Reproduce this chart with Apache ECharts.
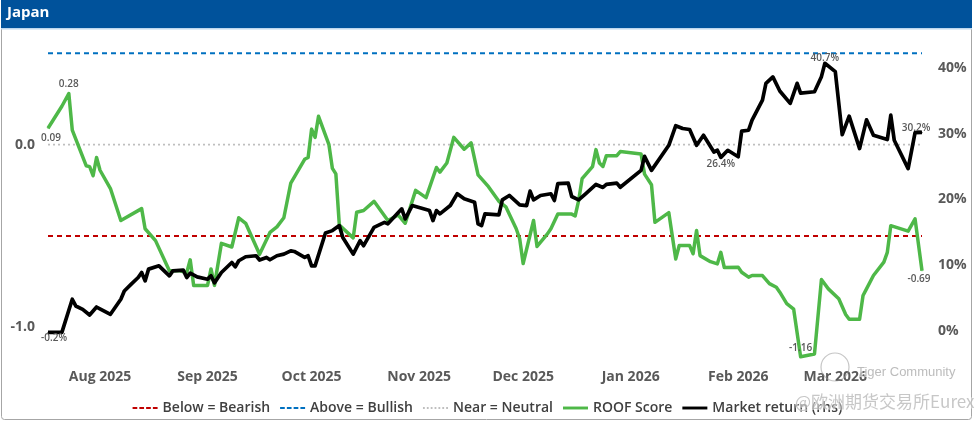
<!DOCTYPE html>
<html>
<head>
<meta charset="utf-8">
<script src="https://cdn.jsdelivr.net/npm/echarts@6/dist/echarts.min.js"></script>
<style>
html,body{margin:0;padding:0;background:#fff;}
#chart{width:975px;height:424px;}
</style>
</head>
<body>
<div id="chart"></div>
<script>
// ---------------- DATA ----------------
const chartTitle = 'Japan';

const roofDates = ['2025-07-17','2025-07-21','2025-07-23','2025-07-24','2025-07-28','2025-07-29','2025-07-30','2025-07-31','2025-08-01','2025-08-04','2025-08-07','2025-08-13','2025-08-14','2025-08-17','2025-08-21','2025-08-24','2025-08-26','2025-08-27','2025-08-28','2025-09-01','2025-09-02','2025-09-03','2025-09-05','2025-09-08','2025-09-10','2025-09-12','2025-09-16','2025-09-19','2025-09-21','2025-09-23','2025-09-25','2025-09-29','2025-09-30','2025-10-01','2025-10-02','2025-10-03','2025-10-06','2025-10-07','2025-10-08','2025-10-09','2025-10-13','2025-10-14','2025-10-16','2025-10-19','2025-10-23','2025-10-26','2025-10-28','2025-10-31','2025-11-03','2025-11-06','2025-11-07','2025-11-09','2025-11-11','2025-11-14','2025-11-16','2025-11-18','2025-11-21','2025-11-24','2025-11-26','2025-11-29','2025-11-30','2025-12-01','2025-12-04','2025-12-05','2025-12-08','2025-12-09','2025-12-11','2025-12-15','2025-12-16','2025-12-17','2025-12-18','2025-12-21','2025-12-22','2025-12-23','2025-12-24','2025-12-25','2025-12-28','2025-12-29','2026-01-04','2026-01-05','2026-01-07','2026-01-08','2026-01-12','2026-01-14','2026-01-15','2026-01-18','2026-01-19','2026-01-20','2026-01-21','2026-01-24','2026-01-26','2026-01-27','2026-01-28','2026-02-01','2026-02-02','2026-02-04','2026-02-05','2026-02-08','2026-02-10','2026-02-12','2026-02-13','2026-02-15','2026-02-17','2026-02-19','2026-02-23','2026-02-25','2026-02-27','2026-03-02','2026-03-04','2026-03-05','2026-03-08','2026-03-09','2026-03-10','2026-03-12','2026-03-15','2026-03-16','2026-03-17','2026-03-22','2026-03-24','2026-03-26'];

const roofScore = [0.09,0.21,0.28,0.08,-0.115,-0.12,-0.17,-0.07,-0.14,-0.24,-0.415,-0.35,-0.46,-0.525,-0.69,-0.69,-0.70,-0.63,-0.77,-0.77,-0.68,-0.77,-0.54,-0.56,-0.40,-0.43,-0.60,-0.48,-0.45,-0.40,-0.21,-0.08,-0.07,0.085,0.04,0.155,0.0,-0.13,-0.16,-0.44,-0.51,-0.37,-0.36,-0.31,-0.415,-0.385,-0.43,-0.25,-0.29,-0.125,-0.15,-0.10,0.04,-0.025,0.01,-0.165,-0.23,-0.31,-0.34,-0.46,-0.515,-0.65,-0.415,-0.557,-0.488,-0.46,-0.38,-0.38,-0.39,-0.306,-0.186,-0.12,-0.027,-0.10,-0.119,-0.06,-0.06,-0.038,-0.051,-0.161,-0.219,-0.425,-0.372,-0.625,-0.552,-0.552,-0.597,-0.47,-0.607,-0.64,-0.652,-0.589,-0.672,-0.67,-0.698,-0.725,-0.716,-0.716,-0.76,-0.78,-0.807,-0.87,-0.90,-1.16,-1.145,-0.738,-0.789,-0.843,-0.929,-0.955,-0.955,-0.825,-0.789,-0.716,-0.643,-0.589,-0.443,-0.473,-0.406,-0.69];

const marketDates = ['2025-07-17','2025-07-21','2025-07-24','2025-07-25','2025-07-27','2025-07-29','2025-07-31','2025-08-04','2025-08-07','2025-08-08','2025-08-10','2025-08-12','2025-08-13','2025-08-14','2025-08-15','2025-08-18','2025-08-21','2025-08-22','2025-08-25','2025-08-26','2025-08-27','2025-08-29','2025-09-01','2025-09-02','2025-09-03','2025-09-05','2025-09-08','2025-09-09','2025-09-10','2025-09-12','2025-09-15','2025-09-16','2025-09-18','2025-09-19','2025-09-21','2025-09-23','2025-09-25','2025-09-26','2025-09-29','2025-09-30','2025-10-01','2025-10-02','2025-10-05','2025-10-07','2025-10-09','2025-10-10','2025-10-13','2025-10-15','2025-10-16','2025-10-19','2025-10-22','2025-10-23','2025-10-27','2025-10-28','2025-10-30','2025-11-04','2025-11-05','2025-11-06','2025-11-07','2025-11-10','2025-11-12','2025-11-14','2025-11-17','2025-11-18','2025-11-19','2025-11-20','2025-11-24','2025-11-25','2025-11-27','2025-11-30','2025-12-02','2025-12-03','2025-12-04','2025-12-06','2025-12-09','2025-12-10','2025-12-11','2025-12-14','2025-12-15','2025-12-17','2025-12-19','2025-12-22','2025-12-24','2025-12-25','2025-12-28','2025-12-29','2026-01-04','2026-01-05','2026-01-07','2026-01-12','2026-01-14','2026-01-16','2026-01-18','2026-01-20','2026-01-22','2026-01-25','2026-01-26','2026-01-27','2026-01-29','2026-02-01','2026-02-02','2026-02-04','2026-02-05','2026-02-08','2026-02-09','2026-02-11','2026-02-13','2026-02-16','2026-02-18','2026-02-19','2026-02-23','2026-02-25','2026-02-26','2026-03-01','2026-03-03','2026-03-05','2026-03-08','2026-03-10','2026-03-12','2026-03-16','2026-03-17','2026-03-18','2026-03-22','2026-03-24','2026-03-26'];

const marketReturn = [-0.2,-0.2,4.84,3.82,3.31,2.44,3.66,2.55,4.84,6.1,7.13,8.14,8.9,7.63,9.42,9.92,8.4,9.16,9.27,8.14,8.81,8.24,7.89,8.4,7.33,8.9,10.43,9.77,10.69,11.3,11.45,10.8,11.2,10.84,11.45,11.7,12.2,12.1,11.2,11.45,9.92,9.92,14.9,15.27,16.03,14.24,11.7,13.74,12.98,15.77,16.53,16.3,18.58,17.05,19.08,18.32,16.79,18.32,17.82,19.08,20.87,20.1,19.59,16.29,16.03,17.82,17.66,19.95,20.61,19.19,19.08,21.27,19.95,20.61,20.87,19.85,22.4,22.49,20.46,19.95,20.87,22.29,21.83,22.29,22.49,21.87,24.43,26.56,24.43,28.24,31.22,30.79,30.64,28.24,29.77,27.22,27.48,26.4,27.48,26.5,30.38,30.53,32.06,35.11,37.66,38.63,36.49,34.61,37.66,36.18,36.38,38.67,40.7,39.44,29.85,32.67,27.74,32.11,29.77,29.11,32.82,29.0,24.69,30.15,30.2];

const levelNames = ['Below = Bearish', 'Above = Bullish', 'Near = Neutral'];
const levelValues = [-0.5, 0.5, 0];

const seriesNames = ['ROOF Score', 'Market return (rhs)'];
const monthNames = ['Jan','Feb','Mar','Apr','May','Jun','Jul','Aug','Sep','Oct','Nov','Dec'];
const leftTickLabels = [-1, 0];
const rightTickLabels = [0, 10, 20, 30, 40];
const marketLabelDates = ['2026-01-27']; // extra annotated point
const watermarkTexts = ['Tiger Community', '@欧洲期货交易所Eurex'];

// ---------------- BUILD ----------------
const FONT = 'Open Sans';
const GREY = '#595959';
const startDate = roofDates[0];
const endDate = roofDates[roofDates.length - 1];

function idxMax(a){let m=0;a.forEach((v,i)=>{if(v>a[m])m=i;});return m;}
function idxMin(a){let m=0;a.forEach((v,i)=>{if(v<a[m])m=i;});return m;}

const lblBase = {show:true, fontFamily:FONT, fontSize:10, fontWeight:600, color:GREY};

const roofLabelCfg = {};
roofLabelCfg[0] = {position:'bottom', distance:4, offset:[3,0]};
roofLabelCfg[idxMax(roofScore)] = {position:'top', distance:4};
roofLabelCfg[idxMin(roofScore)] = {position:'top', distance:3};
roofLabelCfg[roofScore.length-1] = {position:'bottom', distance:3, offset:[-3,0]};

const mktLabelCfg = {};
mktLabelCfg[0] = {position:'bottom', distance:0, offset:[6,0]};
mktLabelCfg[idxMax(marketReturn)] = {position:'top', distance:0};
marketLabelDates.forEach(d => { const i = marketDates.indexOf(d); if (i >= 0) mktLabelCfg[i] = {position:'bottom', distance:1}; });
mktLabelCfg[marketReturn.length-1] = {position:'inside', offset:[-6,-4]};

function buildData(dates, values, cfg, fmt, color) {
  return dates.map((d,i) => {
    const it = {value:[d, values[i]]};
    if (cfg[i]) {
      it.symbol = 'circle';
      it.symbolSize = 1;
      it.itemStyle = {color: color};
      it.label = Object.assign({}, lblBase, cfg[i], {formatter: p => fmt(p.value[1])});
    }
    return it;
  });
}
const roofData = buildData(roofDates, roofScore, roofLabelCfg, v => v.toFixed(2), '#4EB848');
const mktData = buildData(marketDates, marketReturn, mktLabelCfg, v => v.toFixed(1) + '%', '#000000');

const levelStyles = [
  {color:'#C00000', type:[5,4], width:2},
  {color:'#0070C0', type:[5,4], width:2},
  {color:'#BFBFBF', type:[2,3], width:1.8}
];

const ICON_DASH = 'path://M0,0H4.5V2H0ZM6.5,0H11V2H6.5ZM13,0H17.5V2H13ZM19.5,0H24V2H19.5Z';
const ICON_DOT = 'path://M0,0H1.6V1.6H0ZM3.4,0H5V1.6H3.4ZM6.8,0H8.4V1.6H6.8ZM10.2,0H11.8V1.6H10.2ZM13.6,0H15.2V1.6H13.6ZM17,0H18.6V1.6H17ZM20.4,0H22V1.6H20.4Z';
const ICON_SOLID = 'path://M0,0H24V2.8H0Z';
const levelIcons = [ICON_DASH, ICON_DASH, ICON_DOT];

const series = levelNames.map((name,i) => ({
  name: name,
  type: 'line',
  yAxisIndex: 0,
  symbol: 'none',
  silent: true,
  animation: false,
  data: [[startDate, levelValues[i]], [endDate, levelValues[i]]],
  lineStyle: levelStyles[i],
  itemStyle: {color: levelStyles[i].color},
  z: 1
}));

series.push({
  name: seriesNames[0], type:'line', yAxisIndex:0, symbol:'none', showSymbol:true,
  animation:false, data: roofData,
  lineStyle:{color:'#4EB848', width:3.5, join:'round'},
  itemStyle:{color:'#4EB848'}, z:2
});
series.push({
  name: seriesNames[1], type:'line', yAxisIndex:1, symbol:'none', showSymbol:true,
  animation:false, data: mktData,
  lineStyle:{color:'#000000', width:3.7, join:'round'},
  itemStyle:{color:'#000000'}, z:3
});

const axisLabelStyle = {color:GREY, fontFamily:FONT, fontSize:14, fontWeight:700};

const legendData = levelNames.map((n,i) => ({name:n, icon: levelIcons[i]}))
  .concat(seriesNames.map(n => ({name:n, icon: ICON_SOLID})));

const option = {
  animation: false,
  backgroundColor: '#ffffff',
  grid: {left:48, right:53, top:35, bottom:60, containLabel:false},
  xAxis: {
    type: 'time',
    min: startDate,
    max: endDate,
    minInterval: 28*86400000,
    maxInterval: 31*86400000,
    axisLine: {show:false},
    axisTick: {show:false},
    splitLine: {show:false},
    axisLabel: Object.assign({}, axisLabelStyle, {
      margin: 6,
      showMinLabel: false,
      showMaxLabel: false,
      hideOverlap: false,
      formatter: function (val) {
        const d = new Date(val);
        if (d.getDate() !== 1) return '';
        return monthNames[d.getMonth()] + ' ' + d.getFullYear();
      }
    })
  },
  yAxis: [
    {
      type:'value', min:-1.2, max:0.6, interval:0.2,
      axisLine:{show:false}, axisTick:{show:false}, splitLine:{show:false},
      axisLabel: Object.assign({}, axisLabelStyle, {
        margin: 13,
        formatter: v => leftTickLabels.some(t => Math.abs(t - v) < 1e-6) ? v.toFixed(1) : ''
      })
    },
    {
      type:'value', min:-5, max:45, interval:5, position:'right',
      axisLine:{show:false}, axisTick:{show:false}, splitLine:{show:false},
      axisLabel: Object.assign({}, axisLabelStyle, {
        margin: 16,
        formatter: v => rightTickLabels.some(t => Math.abs(t - v) < 1e-6) ? Math.round(v) + '%' : ''
      })
    }
  ],
  legend: {
    data: legendData,
    left: 'center',
    top: 396,
    itemWidth: 25,
    itemHeight: 3,
    itemGap: 10,
    textStyle: {color:'#404040', fontFamily:FONT, fontSize:14, fontWeight:600},
    selectedMode: false
  },
  graphic: [
    {type:'rect', shape:{x:1.5, y:1.5, width:970, height:418, r:3}, style:{fill:'none', stroke:'#A6A6A6', lineWidth:1}, z:-10, silent:true},
    {type:'rect', shape:{x:1, y:0, width:971, height:28}, style:{fill:'#00529B'}, z:50, silent:true},
    {type:'rect', shape:{x:1, y:28, width:971, height:1.5}, style:{fill:'#BDD7EE'}, z:50, silent:true},
    {type:'text', left:7, top:5, style:{text: chartTitle, fill:'#ffffff', font:'700 15px "Open Sans"'}, z:51, silent:true},
    {type:'circle', shape:{cx:835, cy:367, r:14}, style:{fill:'none', stroke:'rgba(150,150,150,0.55)', lineWidth:1.2}, z:60, silent:true},
    {type:'text', x:857, y:372, style:{text: watermarkTexts[0], fill:'rgba(165,165,165,0.75)', font:'13px "Liberation Sans"', textVerticalAlign:'middle', stroke:'rgba(255,255,255,0.6)', lineWidth:2}, z:60, silent:true},
    {type:'text', x:795, y:402, style:{text: watermarkTexts[1], fill:'rgba(175,175,175,0.7)', font:'17px "Noto Sans CJK SC"', textVerticalAlign:'middle', stroke:'rgba(255,255,255,0.5)', lineWidth:2}, z:60, silent:true}
  ],
  series: series
};

const chart = echarts.init(document.getElementById('chart'), null, {renderer:'canvas'});
chart.setOption(option);
</script>
</body>
</html>
